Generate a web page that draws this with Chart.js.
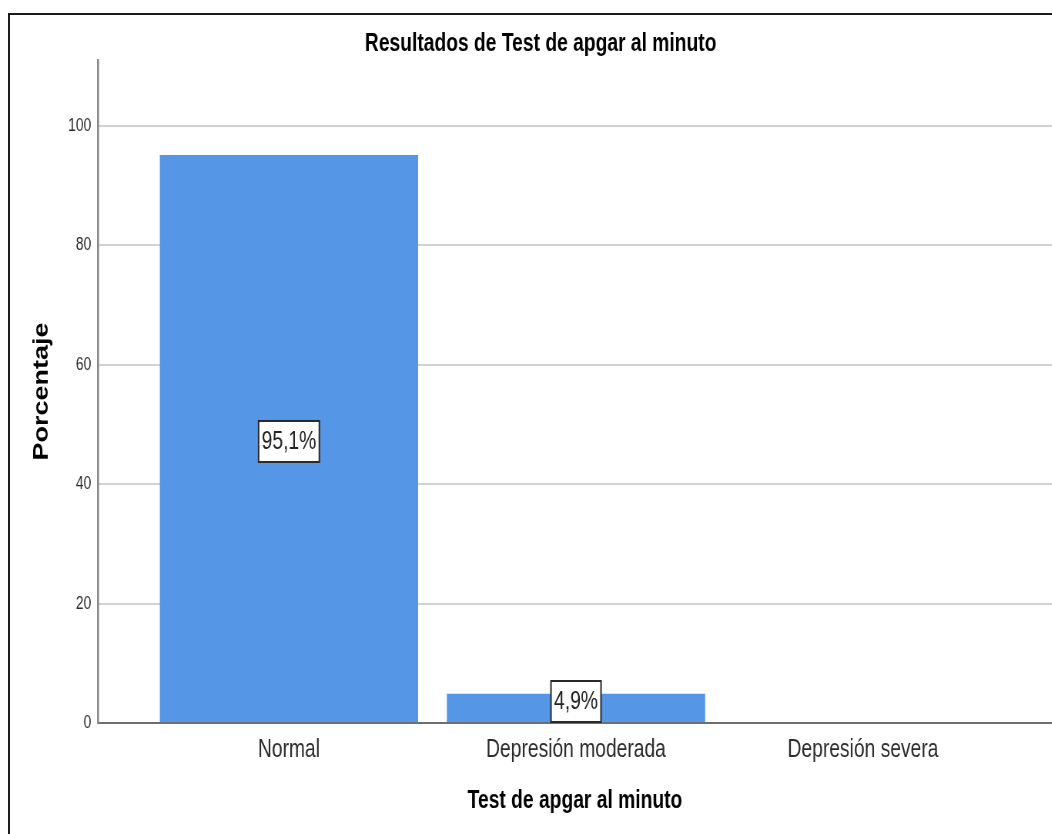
<!DOCTYPE html>
<html lang="es">
<head>
<meta charset="utf-8">
<title>Resultados de Test de apgar al minuto</title>
<script src="https://cdn.jsdelivr.net/npm/chart.js@4.4.1/dist/chart.umd.min.js"></script>
<style>
  html, body { margin: 0; padding: 0; background: #fff; overflow: hidden; width: 1052px; height: 834px; }
  .frame { position: absolute; left: 8px; top: 13px; width: 1200px; height: 1000px; border: 2px solid #1c1c1c; }
  #apgarChart { position: absolute; left: 0; top: 0; transform-origin: 0 0; }
</style>
</head>
<body>
<div class="frame"></div>
<canvas id="apgarChart"></canvas>
<script>
// Test de apgar al minuto - porcentajes por categoria
const categories = ['Normal', 'Depresión moderada', 'Depresión severa'];
const percentages = [95.1, 4.9, 0];
const yTicks = [0, 20, 40, 60, 80, 100];

// the original export is squeezed horizontally, so draw wider and scale down
const SQUEEZE = 0.77;
const FONT = '"Liberation Sans", Arial, sans-serif';
const BAR_COLOR = '#5596e6';

const canvas = document.getElementById('apgarChart');
canvas.width = Math.round(1052 / SQUEEZE);
canvas.height = 834;
canvas.style.transform = `scaleX(${SQUEEZE})`;

// boxed "95,1%" labels in the middle of each bar
const valueLabels = {
    id: 'valueLabels',
    afterDatasetsDraw(chart) {
        const ctx = chart.ctx;
        const meta = chart.getDatasetMeta(0);
        ctx.save();
        ctx.font = `25px ${FONT}`;
        ctx.textAlign = 'center';
        ctx.textBaseline = 'middle';
        meta.data.forEach((bar, i) => {
            const v = percentages[i];
            if (!v) return;
            const text = v.toFixed(1).replace('.', ',') + '%';
            const w = ctx.measureText(text).width + 8;
            const h = 41;
            let cy = (bar.y + bar.base) / 2 + 3;
            if (cy + h / 2 > bar.base) cy = bar.base - h / 2;
            ctx.fillStyle = '#fff';
            ctx.fillRect(bar.x - w / 2, cy - h / 2, w, h);
            ctx.lineWidth = 2;
            ctx.strokeStyle = '#2a2a2a';
            ctx.strokeRect(bar.x - w / 2, cy - h / 2, w, h);
            ctx.fillStyle = '#222';
            ctx.fillText(text, bar.x, cy + 1);
        });
        ctx.restore();
    }
};

new Chart(canvas, {
    type: 'bar',
    data: {
        datasets: [{
            data: percentages.map((v, i) => ({ x: i, y: v })),
            backgroundColor: BAR_COLOR,
            borderWidth: 0,
            barPercentage: 0.9,
            categoryPercentage: 1
        }]
    },
    options: {
        responsive: false,
        devicePixelRatio: 1,
        animation: false,
        layout: { padding: { top: 0, left: 38.3, right: 0, bottom: 17.5 } },
        plugins: {
            legend: { display: false },
            tooltip: { enabled: false },
            title: {
                display: true,
                text: 'Resultados de Test de apgar al minuto',
                color: '#000',
                font: { family: FONT, size: 25, weight: 'bold' },
                padding: { top: 29, bottom: 1 }
            }
        },
        scales: {
            x: {
                type: 'linear',
                min: -0.665,
                max: 2.658,
                offset: false,
                afterBuildTicks: scale => {
                    scale.ticks = categories.map((c, i) => ({ value: i }));
                },
                grid: { display: false, drawTicks: false },
                border: { display: true, color: '#6f6f6f', width: 2 },
                ticks: {
                    callback: v => categories[v],
                    color: '#2b2b2b',
                    font: { family: FONT, size: 25 },
                    padding: 12,
                    maxRotation: 0,
                    autoSkip: false
                },
                title: {
                    display: true,
                    text: 'Test de apgar al minuto',
                    color: '#000',
                    font: { family: FONT, size: 25, weight: 'bold' },
                    padding: { top: 9.5, bottom: 0 }
                }
            },
            y: {
                min: 0,
                max: 111,
                afterBuildTicks: scale => {
                    scale.ticks = yTicks.map(v => ({ value: v }));
                },
                grid: { color: '#d2d2d2', lineWidth: 2, drawTicks: false },
                border: { display: true, color: '#8a8a8a', width: 2.6 },
                ticks: {
                    color: '#2b2b2b',
                    font: { family: FONT, size: 18 },
                    padding: 9
                },
                title: {
                    display: true,
                    text: 'Porcentaje',
                    color: '#000',
                    font: { family: FONT, size: 27, weight: 'bold' },
                    padding: { top: 0, bottom: 8.7 }
                }
            }
        }
    },
    plugins: [valueLabels]
});
</script>
</body>
</html>
